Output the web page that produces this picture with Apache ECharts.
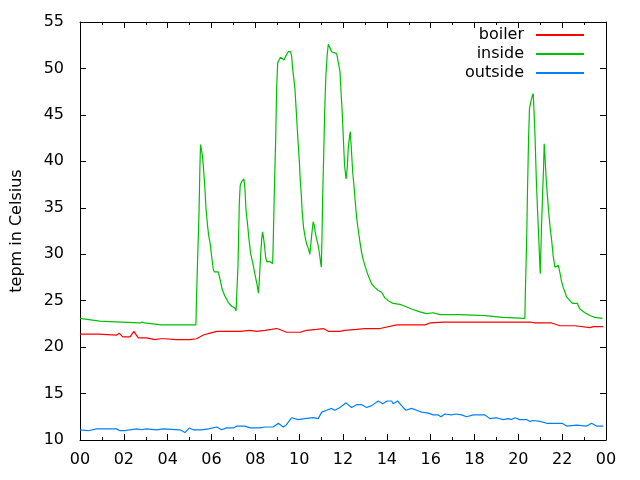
<!DOCTYPE html>
<html>
<head>
<meta charset="utf-8">
<script src="https://cdn.jsdelivr.net/npm/echarts@6/dist/echarts.min.js"></script>
<style>html,body{margin:0;padding:0;background:#fff}#c{width:640px;height:480px}</style>
</head>
<body>
<div id="c"></div>
<script>
// hour of day (0-24) and temperature in Celsius
var boilerHours = [0,0.84,0.91,1.67,1.79,1.95,2.28,2.46,2.66,3.04,3.42,3.65,3.88,4.41,5.02,5.32,5.63,5.93,6.24,6.61,7.15,7.30,7.76,8.06,8.44,8.74,8.97,9.12,9.43,10.04,10.34,10.80,11.10,11.33,11.86,12.09,12.62,13.00,13.69,13.76,14.45,15.74,15.97,16.57,19.62,20.53,20.76,21.52,21.90,22.58,23.27,23.42,23.87];
var boilerTemps = [21.4,21.4,21.3,21.3,21.5,21.1,21.1,21.7,21.0,21.0,20.8,20.9,20.9,20.8,20.8,20.9,21.3,21.5,21.7,21.7,21.7,21.7,21.8,21.7,21.8,21.9,22.0,21.9,21.6,21.6,21.8,21.9,22.0,21.7,21.7,21.8,21.9,22.0,22.0,22.2,22.4,22.4,22.6,22.7,22.7,22.7,22.6,22.6,22.3,22.3,22.1,22.2,22.2];

var insideHours = [0,0.9,1.9,2.74,2.85,2.95,3.04,3.73,5.29,5.31,5.37,5.43,5.47,5.50,5.53,5.58,5.63,5.69,5.75,5.81,5.87,5.93,6.01,6.08,6.13,6.31,6.39,6.49,6.61,6.77,6.92,7.07,7.12,7.15,7.21,7.24,7.27,7.31,7.37,7.48,7.53,7.57,7.65,7.71,7.79,7.88,7.95,8.03,8.09,8.14,8.18,8.24,8.29,8.33,8.36,8.41,8.47,8.52,8.67,8.79,8.82,8.87,8.93,8.97,9.02,9.08,9.15,9.23,9.31,9.38,9.50,9.61,9.66,9.70,9.76,9.81,9.85,9.90,9.96,10.01,10.05,10.10,10.14,10.20,10.26,10.34,10.42,10.49,10.54,10.60,10.64,10.69,10.73,10.80,10.87,10.93,10.98,11.01,11.04,11.07,11.12,11.16,11.22,11.28,11.33,11.41,11.48,11.59,11.71,11.80,11.86,11.91,11.97,12.01,12.07,12.14,12.19,12.24,12.29,12.33,12.38,12.44,12.50,12.56,12.62,12.70,12.80,12.88,12.96,13.05,13.15,13.31,13.46,13.61,13.76,13.91,14.07,14.29,14.60,14.83,15.13,15.51,15.82,16.12,16.42,17.34,18.5,19.3,20.30,20.32,20.38,20.42,20.47,20.51,20.57,20.63,20.68,20.71,20.76,20.82,20.88,20.93,20.97,21.00,21.06,21.11,21.15,21.18,21.21,21.26,21.32,21.38,21.44,21.52,21.59,21.67,21.82,21.90,21.97,22.05,22.13,22.20,22.35,22.48,22.69,22.81,23.04,23.27,23.49,23.84];
var insideTemps = [23.1,22.8,22.7,22.6,22.7,22.6,22.5,22.4,22.4,24.8,29.7,34.4,39.3,41.8,41.4,40.7,39.4,37.4,34.9,33.3,32.0,31.3,29.7,28.4,28.1,28.1,27.3,26.2,25.5,24.8,24.4,24.2,23.9,25.5,28.9,32.3,35.6,37.4,37.8,38.1,36.9,34.9,33.1,31.6,30.0,29.1,28.2,27.3,26.6,25.8,27.1,29.8,31.6,32.4,32.0,31.1,29.7,29.2,29.2,29.0,31.6,37.1,42.5,47.7,50.6,50.9,51.2,51.0,50.9,51.3,51.8,51.8,51.3,50.0,48.8,47.7,46.1,44.1,41.7,39.9,38.0,36.3,34.5,32.9,32.0,31.1,30.6,30.0,31.3,32.7,33.5,33.1,32.4,31.6,30.9,30.0,29.1,28.6,31.6,36.0,40.7,45.0,49.3,51.5,52.6,52.2,51.8,51.7,51.6,51.4,49.7,47.5,45.0,42.8,39.6,38.1,39.2,41.4,42.5,43.2,41.4,38.9,37.4,35.6,34.0,32.5,30.9,29.8,29.1,28.4,27.7,26.8,26.4,26.1,25.9,25.3,25.0,24.7,24.6,24.4,24.1,23.8,23.6,23.7,23.5,23.5,23.4,23.2,23.1,25.9,31.5,37.1,42.7,45.7,46.4,47.0,47.3,45.7,42.8,38.1,34.5,31.8,29.5,27.9,33.1,36.7,39.2,41.9,40.8,38.5,36.5,34.7,33.1,31.5,29.8,28.6,28.8,28.0,27.1,26.4,25.9,25.4,25.0,24.7,24.7,24.1,23.7,23.4,23.2,23.1];

var outsideHours = [0,0.38,0.76,1.67,1.82,2.05,2.28,2.59,2.81,3.04,3.50,3.80,4.56,4.79,4.99,5.17,5.55,5.86,6.24,6.46,6.69,7.00,7.15,7.53,7.76,7.83,8.21,8.44,8.82,9.05,9.27,9.40,9.66,9.96,10.26,10.64,10.87,11.03,11.25,11.48,11.63,11.86,12.14,12.39,12.62,12.85,13.08,13.31,13.61,13.81,14.02,14.22,14.29,14.49,14.67,14.87,15.13,15.36,15.59,15.89,16.12,16.35,16.47,16.65,16.96,17.15,17.41,17.64,17.94,18.48,18.70,19.01,19.31,19.54,19.69,19.84,20.07,20.38,20.53,20.68,20.99,21.29,21.75,22.00,22.20,22.66,23.12,23.34,23.57,23.87];
var outsideTemps = [11.1,11.0,11.2,11.2,11.0,11.0,11.1,11.2,11.1,11.2,11.1,11.2,11.1,10.8,11.3,11.1,11.1,11.2,11.4,11.1,11.3,11.3,11.5,11.5,11.3,11.4,11.3,11.4,11.4,11.8,11.4,11.6,12.4,12.2,12.3,12.4,12.3,13.0,13.2,13.4,13.2,13.5,14.0,13.5,13.8,13.8,13.5,13.7,14.2,13.9,14.2,14.2,13.9,14.2,13.7,13.2,13.4,13.2,13.0,12.9,12.7,12.7,12.5,12.8,12.7,12.8,12.7,12.5,12.7,12.7,12.3,12.4,12.2,12.3,12.2,12.4,12.2,12.2,12.0,12.1,12.0,11.8,11.8,11.8,11.5,11.6,11.5,11.8,11.5,11.5];

var seriesNames = ['boiler', 'inside', 'outside'];
var seriesColors = ['#ff0000', '#00c000', '#0080ff'];
var yTitle = 'tepm in Celsius';

function pairs(h, v) { return h.map(function (x, i) { return [x, v[i]]; }); }
var dataSets = [pairs(boilerHours, boilerTemps), pairs(insideHours, insideTemps), pairs(outsideHours, outsideTemps)];

var FONT = 'DejaVu Sans';
var chart = echarts.init(document.getElementById('c'), null, {renderer: 'canvas'});

function hourLabel(v) { var h = Math.round(v) % 24; return (h < 10 ? '0' : '') + h; }

var axisLine = {show: true, onZero: false, lineStyle: {color: '#000', width: 1}};
var xBase = {
  type: 'value', min: 0, max: 24, interval: 2,
  axisLine: axisLine,
  axisTick: {show: true, inside: true, length: 6, lineStyle: {color: '#000'}},
  minorTick: {show: true, splitNumber: 2, length: 3, lineStyle: {color: '#000'}},
  splitLine: {show: false}
};
var yBase = {
  type: 'value', min: 10, max: 55, interval: 5,
  axisLine: axisLine,
  axisTick: {show: true, inside: true, length: 6, lineStyle: {color: '#000'}},
  splitLine: {show: false}
};

var option = {
  animation: false,
  backgroundColor: '#fff',
  textStyle: {fontFamily: FONT},
  grid: {left: 80, right: 34, top: 22, bottom: 40, containLabel: false, outerBoundsMode: 'none'},
  legend: {
    orient: 'vertical', align: 'right', right: 50, top: 22,
    itemWidth: 48, itemHeight: 14, itemGap: 3,
    itemStyle: {opacity: 0, borderWidth: 0},
    textStyle: {fontFamily: FONT, fontSize: 16, color: '#000', padding: [0, 7, 0, 0]},
    data: seriesNames
  },
  xAxis: [
    Object.assign({}, xBase, {position: 'bottom',
      axisLabel: {show: true, margin: 12, fontSize: 16, color: '#000', fontFamily: FONT, formatter: hourLabel}}),
    Object.assign({}, xBase, {position: 'top', axisLabel: {show: false}})
  ],
  yAxis: [
    Object.assign({}, yBase, {position: 'left',
      name: yTitle, nameLocation: 'middle', nameGap: 55, nameRotate: 90, nameMoveOverlap: false,
      nameTextStyle: {fontSize: 16, color: '#000', fontFamily: FONT},
      axisLabel: {show: true, margin: 16, fontSize: 16, color: '#000', fontFamily: FONT}}),
    Object.assign({}, yBase, {position: 'right', axisLabel: {show: false}})
  ],
  series: seriesNames.map(function (n, i) {
    return {
      name: n, type: 'line', data: dataSets[i], symbol: 'none', showSymbol: false,
      xAxisIndex: 0, yAxisIndex: 0,
      color: seriesColors[i],
      lineStyle: {color: seriesColors[i], width: 1.2},
      z: i === 1 ? 3 : 2
    };
  })
};
chart.setOption(option);
</script>
</body>
</html>
